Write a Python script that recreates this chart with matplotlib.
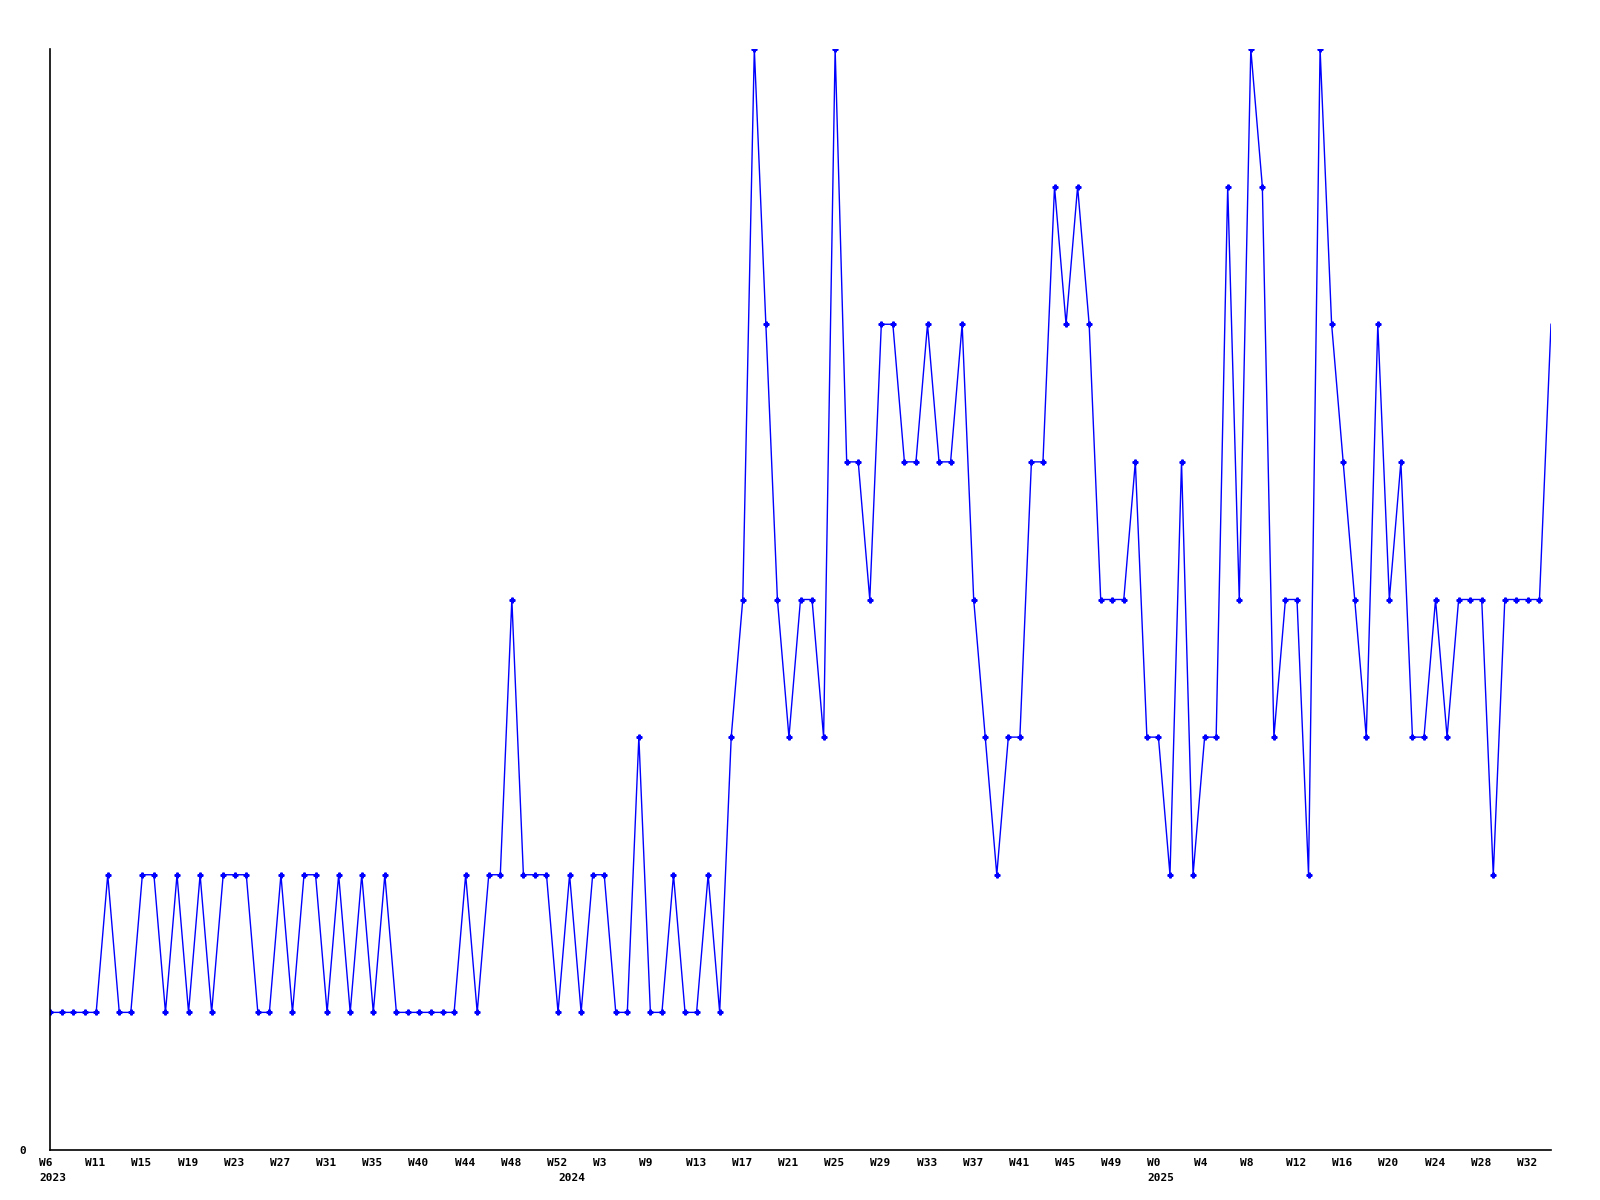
import matplotlib
matplotlib.use("Agg")
import matplotlib.pyplot as plt
import matplotlib.transforms as mtransforms

# weekly counts
values = [1, 1, 1, 1, 1, 2, 1, 1, 2, 2, 1, 2, 1, 2, 1, 2, 2, 2, 1, 1,
          2, 1, 2, 2, 1, 2, 1, 2, 1, 2, 1, 1, 1, 1, 1, 1, 2, 1, 2, 2,
          4, 2, 2, 2, 1, 2, 1, 2, 2, 1, 1, 3, 1, 1, 2, 1, 1, 2, 1, 3,
          4, 8, 6, 4, 3, 4, 4, 3, 8, 5, 5, 4, 6, 6, 5, 5, 6, 5, 5, 6,
          4, 3, 2, 3, 3, 5, 5, 7, 6, 7, 6, 4, 4, 4, 5, 3, 3, 2, 5, 2,
          3, 3, 7, 4, 8, 7, 3, 4, 4, 2, 8, 6, 5, 4, 3, 6, 4, 5, 3, 3,
          4, 3, 4, 4, 4, 2, 4, 4, 4, 4, 6]

week_labels = ['W6', 'W11', 'W15', 'W19', 'W23', 'W27', 'W31', 'W35', 'W40',
               'W44', 'W48', 'W52', 'W3', 'W9', 'W13', 'W17', 'W21', 'W25',
               'W29', 'W33', 'W37', 'W41', 'W45', 'W49', 'W0', 'W4', 'W8',
               'W12', 'W16', 'W20', 'W24', 'W28', 'W32']
week_ticks = list(range(0, 4 * len(week_labels), 4))

years = ['2023', '2024', '2025']
year_pos = [0, 45, 96]

x = list(range(len(values)))

fig = plt.figure(figsize=(16, 12), dpi=100)
ax = fig.add_axes([50 / 1600, 50 / 1200, 1501 / 1600, 1101 / 1200])

ax.plot(x, values, color='#0000ff', lw=1.0, marker='P', ms=3.5,
        markevery=slice(0, len(values) - 1))

ax.set_xlim(0, len(values) - 1)
ax.set_ylim(0, 8)
ax.spines['top'].set_visible(False)
ax.spines['right'].set_visible(False)
ax.spines['left'].set_linewidth(1.2)
ax.spines['bottom'].set_linewidth(1.2)

font = dict(family='DejaVu Sans Mono', weight='bold', size=8)

ax.set_yticks([0])
ax.set_yticklabels(['0'], **font)
ax.tick_params(axis='y', length=0, pad=17)

ax.set_xticks(week_ticks)
ax.set_xticklabels(week_labels, ha='left', **font)
ax.tick_params(axis='x', length=0, pad=6)
shift = mtransforms.ScaledTranslation(-11 / 100, 0, fig.dpi_scale_trans)
for lab in ax.get_xticklabels():
    lab.set_transform(lab.get_transform() + shift)

trans = mtransforms.blended_transform_factory(ax.transData, ax.transAxes)
for yr, pos in zip(years, year_pos):
    ax.text(pos, 0, yr, transform=trans + mtransforms.ScaledTranslation(-11 / 100, -23 / 100, fig.dpi_scale_trans),
            ha='left', va='top', **font)

fig.savefig('out.png', dpi=100)
